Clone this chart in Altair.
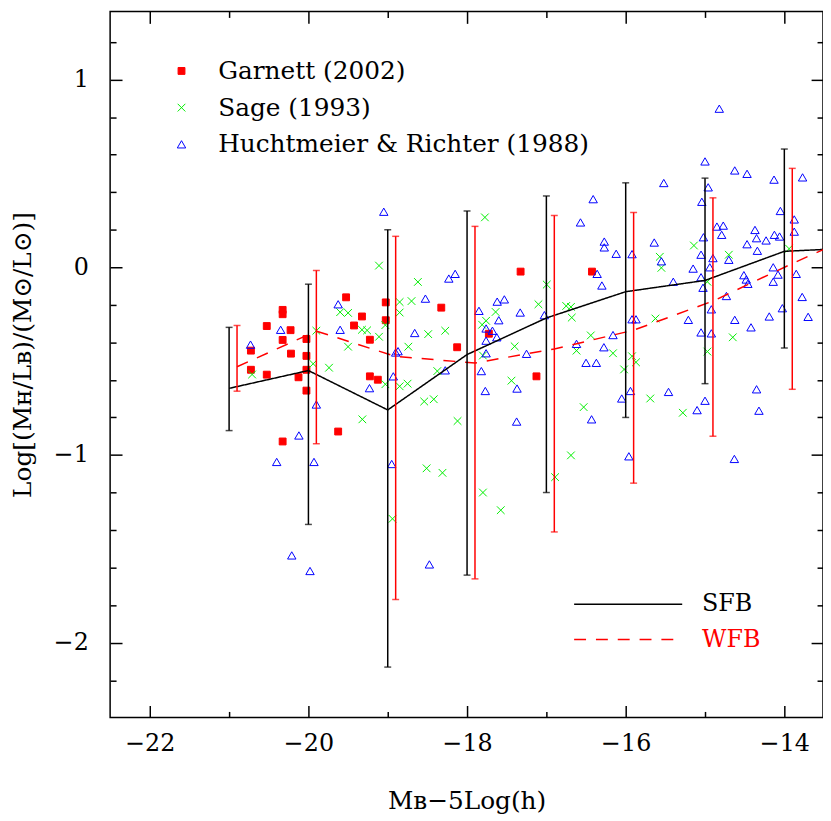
import altair as alt
import pandas as pd

# ---------------- data ----------------
garnett_x = [-19.525, -20.325, -20.325, -19.025, -20.525, -20.225, -19.325, -19.025, -19.425,
             -20.325, -20.025, -19.225, -20.725, -20.22, -20.025, -20.725, -20.525, -20.025,
             -20.125, -19.225, -19.125, -20.025, -19.625, -20.325, -17.325, -16.425, -18.325,
             -18.125, -17.725, -17.125]
garnett_y = [-0.16, -0.227, -0.25, -0.187, -0.313, -0.335, -0.262, -0.282, -0.31,
             -0.387, -0.382, -0.386, -0.444, -0.46, -0.472, -0.546, -0.572, -0.546,
             -0.586, -0.581, -0.599, -0.657, -0.875, -0.928, -0.023, -0.023, -0.215,
             -0.426, -0.354, -0.581]

sage_x = [-19.11, -18.62, -18.85, -18.7, -18.85, -19.6, -19.5, -19.9, -19.325, -19.26,
          -19.03, -19.11, -19.5, -18.74, -19.94, -19.74, -20.71, -19.03, -18.85, -18.75,
          -19.32, -17.775, -18.49, -18.275, -16.995, -17.1, -17.64, -17.76, -17.81, -16.75,
          -16.69, -16.68, -17.4, -17.8, -16.44, -16.62, -16.16, -18.375, -17.44, -18.54,
          -18.42, -18.12, -16.53, -16.69, -18.51, -18.31, -16.89, -18.94, -17.8, -17.575,
          -15.14, -15.57, -15.55, -14.7, -13.94, -14.97, -15.625, -14.65, -15.92, -15.87,
          -16.02, -14.97, -15.69, -15.28]
sage_y = [0.009, -0.078, -0.185, -0.18, -0.241, -0.239, -0.243, -0.338, -0.333, -0.336,
          -0.308, -0.37, -0.423, -0.423, -0.514, -0.535, -0.571, -0.623, -0.634, -0.62,
          -0.81, 0.266, -0.356, -0.338, -0.092, -0.197, -0.238, -0.285, -0.306, -0.206,
          -0.211, -0.268, -0.421, -0.47, -0.363, -0.444, -0.458, -0.553, -0.604, -0.715,
          -0.703, -0.819, -0.745, -1.002, -1.071, -1.095, -1.118, -1.34, -1.2, -1.294,
          0.116, 0.056, -0.003, 0.067, 0.099, -0.077, -0.273, -0.373, -0.474, -0.506,
          -0.544, -0.449, -0.699, -0.775]

hr_x = [-19.625, -20.35, -19.6, -20.73, -18.66, -18.9, -18.87, -18.93, -19.23, -19.9,
        -20.12, -20.4, -19.93, -18.95, -20.21, -19.98, -18.475, -19.05,
        -18.23, -18.15, -18.525, -18.275, -17.85, -17.62, -17.53, -17.6, -17.33, -17.025,
        -17.76, -17.68, -17.76, -17.625, -17.76, -17.25, -17.82, -17.77, -17.37, -17.375,
        -16.41, -16.57, -16.27, -16.27, -16.36, -16.3, -16.62, -16.275, -16.5, -16.37,
        -16.43, -16.16,
        -14.82, -15.0, -15.52, -14.625, -14.47, -14.13, -13.77, -14.96, -15.04, -14.05,
        -13.875, -13.875, -14.85, -14.77, -14.79, -14.37, -14.35, -14.23, -14.125, -14.06,
        -15.02, -14.47, -14.34, -16.12, -15.92, -15.64, -15.55, -15.05, -14.9, -14.7,
        -15.15, -14.94, -14.14, -14.08, -13.85, -15.4, -15.05, -15.025, -14.51, -14.48,
        -14.46, -14.14, -14.73, -13.775, -14.025, -14.92, -15.21, -14.625, -14.19, -13.7,
        -14.42, -15.92, -15.87, -15.05, -14.92, -15.94, -16.05, -15.46, -15.0, -15.1,
        -14.35, -14.32, -15.96, -14.63]
hr_y = [-0.197, -0.333, -0.333, -0.412, -0.35, -0.454, -0.447, -0.581, -0.644, -0.731,
        -0.896, -1.037, -1.037, -1.048, -1.535, -1.618, -1.583, 0.296,
        -0.06, -0.035, -0.167, -0.549, -0.232, -0.183, -0.171, -0.282, -0.241, -0.255,
        -0.326, -0.338, -0.391, -0.373, -0.458, -0.461, -0.553, -0.659, -0.646, -0.822,
        0.363, 0.239, 0.137, 0.106, -0.035, -0.097, -0.408, -0.426, -0.509, -0.509,
        -0.81, -0.361,
        0.845, 0.564, 0.449, 0.516, 0.498, 0.467, 0.479, 0.426, 0.349, 0.3,
        0.255, 0.19, 0.217, 0.222, 0.173, 0.199, 0.155, 0.143, 0.173, 0.164,
        0.16, 0.123, 0.088, 0.072, 0.07, 0.132, 0.032, 0.067, 0.049, 0.04,
        -0.007, 0.0, 0.0, -0.039, -0.035, -0.077, -0.053, -0.109, -0.042, -0.065,
        -0.088, -0.077, -0.153, -0.158, -0.218, -0.224, -0.28, -0.28, -0.262, -0.264,
        -0.32, -0.277, -0.277, -0.347, -0.352, -0.659, -0.699, -0.664, -0.711, -0.761,
        -0.65, -0.764, -1.007, -1.021]

sfb_x = [-21, -20, -19, -18, -17, -16, -15, -14, -13]
sfb_y = [-0.645, -0.55, -0.76, -0.465, -0.27, -0.13, -0.07, 0.085, 0.105]
sfb_bar_x = [-21, -20, -19, -18, -17, -16, -15, -14]
sfb_lo = [-0.87, -1.37, -2.13, -1.64, -1.20, -0.80, -0.62, -0.43]
sfb_hi = [-0.32, -0.09, 0.20, 0.30, 0.38, 0.45, 0.475, 0.63]

wfb_x = [-20.9, -19.9, -18.9, -17.9, -16.9, -15.9, -14.9, -13.9, -12.9]
wfb_y = [-0.53, -0.34, -0.475, -0.51, -0.435, -0.335, -0.18, 0.02, 0.21]
wfb_bar_x = [-20.9, -19.9, -18.9, -17.9, -16.9, -15.9, -14.9, -13.9]
wfb_lo = [-0.66, -0.94, -1.77, -1.66, -1.41, -1.15, -0.90, -0.65]
wfb_hi = [-0.31, -0.017, 0.165, 0.218, 0.276, 0.292, 0.37, 0.527]

src_names = ["Garnett (2002)", "Sage (1993)", "Huchtmeier & Richter (1988)"]
line_names = ["SFB", "WFB"]
x_major = [-22, -20, -18, -16, -14]
x_minor = [-21, -19, -17, -15]
y_major = [-2, -1, 0, 1]
y_minor = [-2.2, -1.8, -1.6, -1.4, -1.2, -0.8, -0.6, -0.4, -0.2, 0.2, 0.4, 0.6, 0.8, 1.2]

# ---------------- tables ----------------
pts = pd.concat([
    pd.DataFrame({"x": garnett_x, "y": garnett_y, "src": src_names[0]}),
    pd.DataFrame({"x": sage_x, "y": sage_y, "src": src_names[1]}),
    pd.DataFrame({"x": hr_x, "y": hr_y, "src": src_names[2]}),
], ignore_index=True)

lines = pd.concat([
    pd.DataFrame({"x": sfb_x, "y": sfb_y, "series": "SFB"}),
    pd.DataFrame({"x": wfb_x, "y": wfb_y, "series": "WFB"}),
], ignore_index=True)

sfb_bars = pd.DataFrame({"x": sfb_bar_x, "lo": sfb_lo, "hi": sfb_hi})
wfb_bars = pd.DataFrame({"x": wfb_bar_x, "lo": wfb_lo, "hi": wfb_hi})
sfb_caps = pd.DataFrame({"x": sfb_bar_x * 2, "v": sfb_lo + sfb_hi})
wfb_caps = pd.DataFrame({"x": wfb_bar_x * 2, "v": wfb_lo + wfb_hi})
key_df = pd.DataFrame({"series": line_names})

# ---------------- styling ----------------
FONT = "DejaVu Serif"
RED = "#ff0000"
DASH = [12, 10]
xs = alt.Scale(domain=[-22.5, -13.5125], nice=False, zero=False)
ys = alt.Scale(domain=[-2.398, 1.363], nice=False, zero=False)


def tick_axis(orient, values, size):
    return alt.Axis(orient=orient, values=values, offset=-size, tickSize=size,
                    tickWidth=1.5, tickColor="black", domain=False, grid=False,
                    labels=False, title=None)


ax_bottom = alt.Axis(orient="bottom", values=x_major, offset=-12, tickSize=12,
                     tickWidth=1.5, tickColor="black", domain=False, grid=False,
                     format="d", labelFont=FONT, labelFontSize=24, labelColor="black",
                     labelPadding=14, title="Mʙ−5Log(h)", titleFont=FONT,
                     titleFontSize=25, titleFontWeight="normal", titleColor="black",
                     titleY=96, titleBaseline="middle")
ax_left = alt.Axis(orient="left", values=y_major, offset=-12, tickSize=12,
                   tickWidth=1.5, tickColor="black", domain=False, grid=False,
                   format="d", labelFont=FONT, labelFontSize=24, labelColor="black",
                   labelPadding=22, title="Log[(Mʜ/Lʙ)/(M⊙/L⊙)]", titleFont=FONT,
                   titleFontSize=25, titleFontWeight="normal", titleColor="black",
                   titleX=-100, titleY=346, titleAngle=270, titleBaseline="middle",
                   titleAlign="center")

X_PATH = "M-1,-1L1,1M-1,1L1,-1"

leg_pts = alt.Legend(orient="none", legendX=59.5, legendY=47.5, title=None,
                     labelFont=FONT, labelFontSize=25, labelColor="black",
                     labelOffset=24.5, rowPadding=11, padding=0, labelLimit=0,
                     direction="vertical", symbolStrokeWidth=1)

points = alt.Chart(pts).mark_point(opacity=1, strokeWidth=1, clip=True).encode(
    x=alt.X("x:Q", scale=xs, axis=ax_bottom),
    y=alt.Y("y:Q", scale=ys, axis=ax_left),
    fill=alt.Fill("src:N", scale=alt.Scale(domain=src_names,
                  range=[RED, "transparent", "transparent"]), legend=leg_pts),
    stroke=alt.Stroke("src:N", scale=alt.Scale(domain=src_names,
                      range=[RED, "#00ee00", "#0000ff"]), legend=leg_pts),
    shape=alt.Shape("src:N", scale=alt.Scale(domain=src_names,
                    range=["square", X_PATH, "triangle-up"]), legend=leg_pts),
    size=alt.Size("src:N", scale=alt.Scale(domain=src_names, range=[48, 72, 190]),
                  legend=leg_pts),
)

line_layer = alt.Chart(lines).mark_line(strokeWidth=1.5, clip=True).encode(
    x=alt.X("x:Q", scale=xs, axis=tick_axis("top", x_major, 12)),
    y=alt.Y("y:Q", scale=ys, axis=tick_axis("right", y_major, 12)),
    color=alt.Color("series:N", scale=alt.Scale(domain=line_names,
                    range=["black", RED]), legend=None),
    strokeDash=alt.StrokeDash("series:N", scale=alt.Scale(domain=line_names,
                              range=[[1, 0], DASH]), legend=None),
)

sfb_rules = alt.Chart(sfb_bars).mark_rule(color="black", strokeWidth=1.5).encode(
    x=alt.X("x:Q", scale=xs, axis=tick_axis("bottom", x_minor, 6)),
    y=alt.Y("lo:Q", scale=ys, axis=tick_axis("left", y_minor, 6)),
    y2="hi:Q",
)
wfb_rules = alt.Chart(wfb_bars).mark_rule(color=RED, strokeWidth=1.5).encode(
    x=alt.X("x:Q", scale=xs, axis=tick_axis("top", x_minor, 6)),
    y=alt.Y("lo:Q", scale=ys, axis=tick_axis("right", y_minor, 6)),
    y2="hi:Q",
)
sfb_tick = alt.Chart(sfb_caps).mark_tick(color="black", orient="horizontal",
                                         size=7, thickness=1.5).encode(
    x=alt.X("x:Q", scale=xs, axis=None),
    y=alt.Y("v:Q", scale=ys, axis=None),
)
wfb_tick = alt.Chart(wfb_caps).mark_tick(color=RED, orient="horizontal",
                                         size=7, thickness=1.5).encode(
    x=alt.X("x:Q", scale=xs, axis=None),
    y=alt.Y("v:Q", scale=ys, axis=None),
)

# key for the two model curves (lower right)
key_sfb_line = alt.Chart(key_df[key_df.series == "SFB"]).mark_rule(
    color="black", strokeWidth=1.5).encode(
    x=alt.value(468), x2=alt.value(577), y=alt.value(598))
key_wfb_line = alt.Chart(key_df[key_df.series == "WFB"]).mark_rule(
    color=RED, strokeWidth=1.5, strokeDash=DASH).encode(
    x=alt.value(468), x2=alt.value(577), y=alt.value(633.5))
key_sfb_text = alt.Chart(key_df[key_df.series == "SFB"]).mark_text(
    font=FONT, fontSize=24, color="black", align="left", baseline="middle").encode(
    x=alt.value(597), y=alt.value(598), text="series:N")
key_wfb_text = alt.Chart(key_df[key_df.series == "WFB"]).mark_text(
    font=FONT, fontSize=24, color=RED, align="left", baseline="middle").encode(
    x=alt.value(597), y=alt.value(633.5), text="series:N")

chart = alt.layer(
    points, line_layer, sfb_rules, wfb_rules, sfb_tick, wfb_tick,
    key_sfb_line, key_wfb_line, key_sfb_text, key_wfb_text
).resolve_axis(
    x="independent", y="independent"
).properties(
    width=719, height=712,
    autosize=alt.AutoSizeParams(type="none"),
    padding={"left": 103, "top": 0, "right": 0, "bottom": 100},
    background="white",
).configure_view(
    stroke="black", strokeWidth=1.5
)

chart.save("out.html", embed_options={"renderer": "svg", "actions": False})
